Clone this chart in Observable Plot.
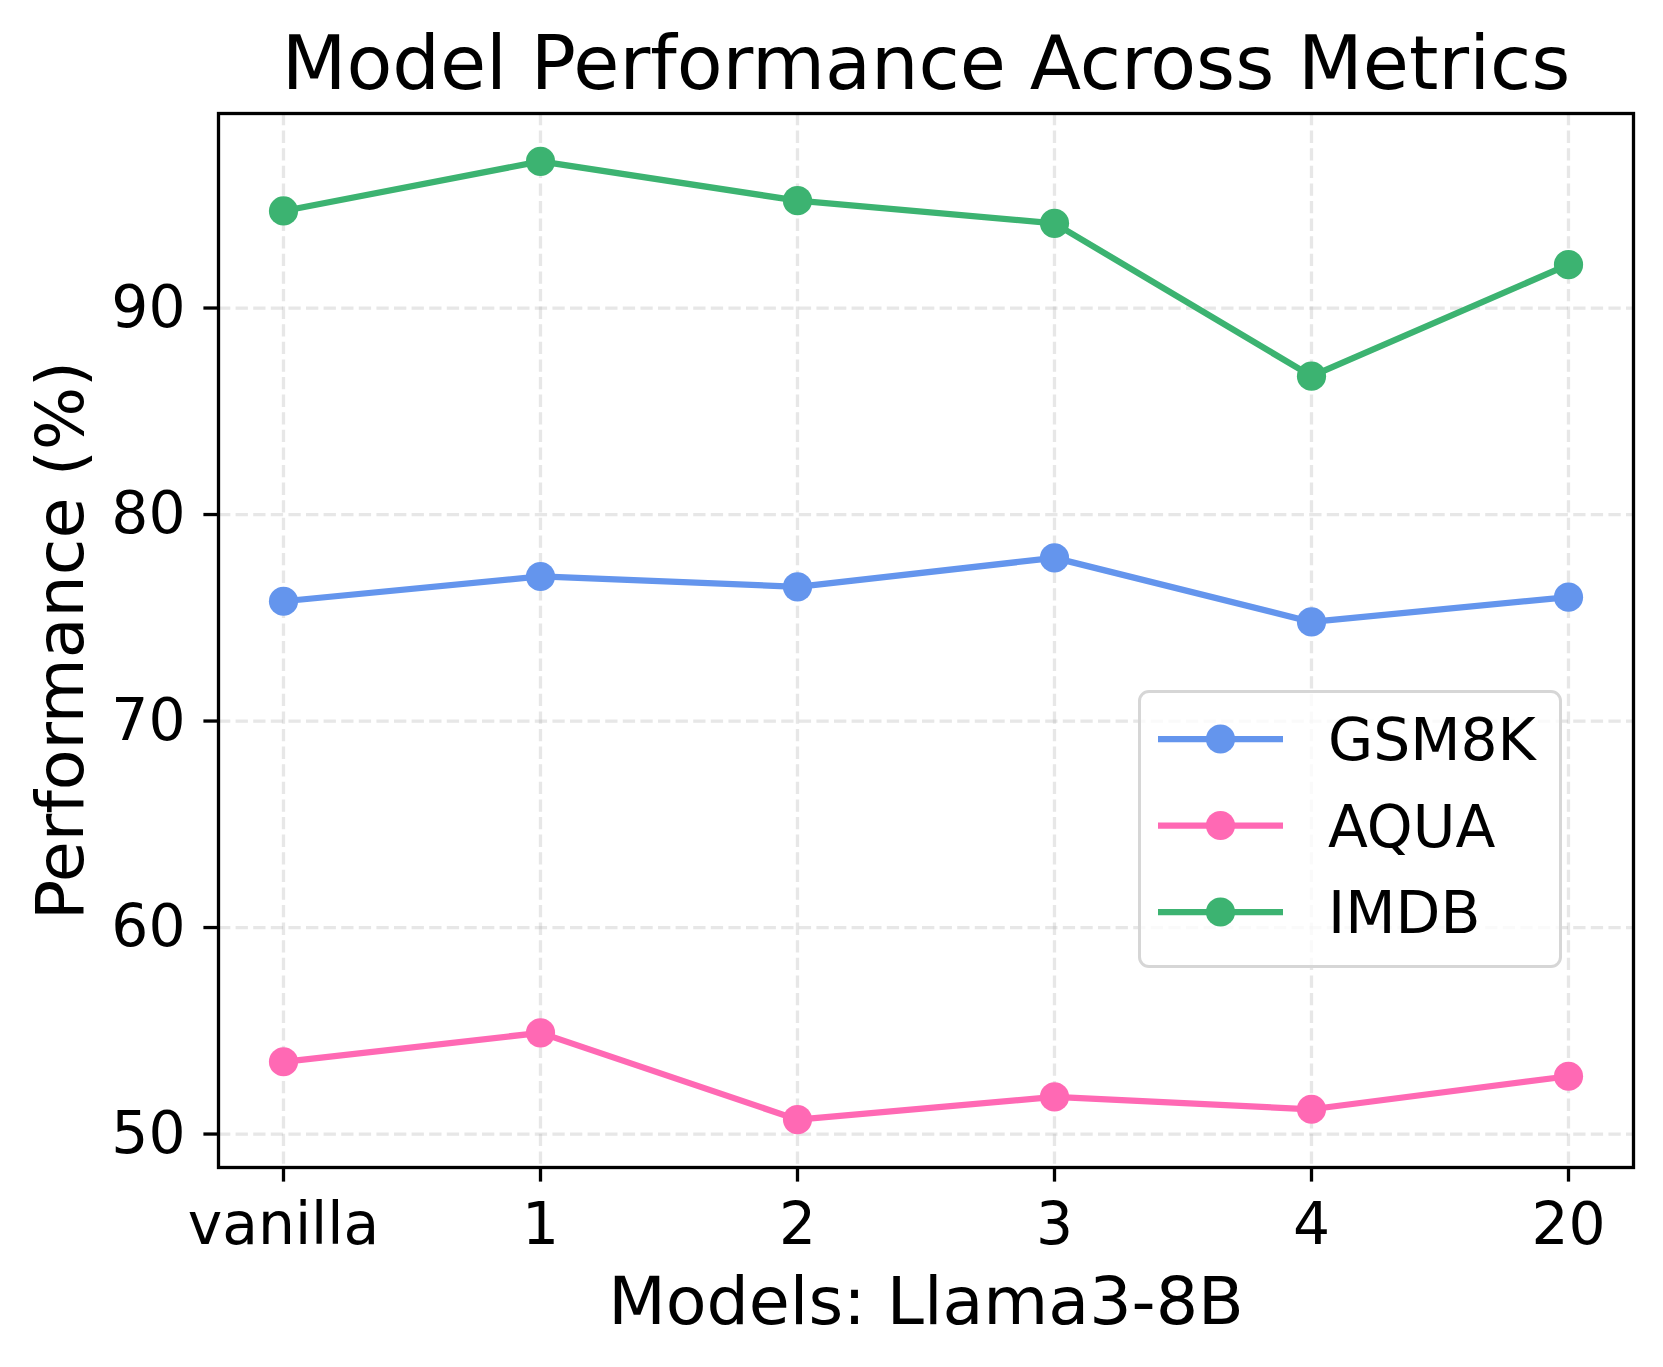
<!DOCTYPE html>
<html>
<head>
<meta charset="utf-8">
<script src="https://cdn.jsdelivr.net/npm/d3@7"></script>
<script src="https://cdn.jsdelivr.net/npm/@observablehq/plot@0.6"></script>
<style>
  html, body { margin: 0; padding: 0; background: #fff; overflow: hidden; }
  #wrap { position: relative; width: 1663px; height: 1367px; font-family: "DejaVu Sans", sans-serif; }
  #legend { position: absolute; left: 1138px; top: 690px; width: 424px; height: 278px;
            box-sizing: border-box; border: 3.3px solid #d6d6d6; border-radius: 11px;
            background: rgba(255,255,255,0.8); }
</style>
</head>
<body>
<div id="wrap"></div>
<script>
const models = ["vanilla", "1", "2", "3", "4", "20"];
const series = ["GSM8K", "AQUA", "IMDB"];
const colors = ["#6495ED", "#FF69B4", "#3CB371"];
const gsm8k = [75.8, 77.0, 76.5, 77.9, 74.8, 76.0];
const aqua  = [53.5, 54.9, 50.7, 51.8, 51.2, 52.8];
const imdb  = [94.7, 97.1, 95.2, 94.1, 86.7, 92.1];
const yTicks = [50, 60, 70, 80, 90];
const title = "Model Performance Across Metrics";
const xLabel = "Models: Llama3-8B";
const yLabel = "Performance (%)";

const values = {GSM8K: gsm8k, AQUA: aqua, IMDB: imdb};
const rows = series.flatMap(s => models.map((m, i) => ({series: s, model: m, value: values[s][i]})));

const all = [...gsm8k, ...aqua, ...imdb];
const lo = d3.min(all), hi = d3.max(all), pad = (hi - lo) * 0.05;

const grid = {stroke: "#b0b0b0", strokeOpacity: 0.3, strokeWidth: 3.3, strokeDasharray: "12.3,5.3"};
const colorCh = {value: d => d.series, scale: "color"};

const chart = Plot.plot({
  width: 1663,
  height: 1367,
  marginLeft: 218,
  marginRight: 30,
  marginTop: 113,
  marginBottom: 200,
  style: {fontFamily: "DejaVu Sans", color: "black", background: "white", overflow: "visible"},
  x: {type: "point", domain: models, padding: 0.25},
  y: {domain: [lo - pad, hi + pad]},
  color: {type: "ordinal", domain: series, range: colors},
  marks: [
    Plot.gridX(models, {...grid}),
    Plot.gridY(yTicks, {...grid}),
    ...series.map(s => Plot.line(rows.filter(d => d.series === s), {x: "model", y: "value", stroke: colorCh, strokeWidth: 6.25})),
    ...series.map(s => Plot.dot(rows.filter(d => d.series === s), {x: "model", y: "value", fill: colorCh, r: 14.6, stroke: null})),
    Plot.axisX({tickSize: 14.6, tickPadding: 20, fontSize: 58.3, strokeWidth: 3.3, label: null}),
    Plot.axisY({ticks: yTicks, tickSize: 14.6, tickPadding: 18.4, fontSize: 58.3, strokeWidth: 3.3, label: null}),
    Plot.frame({stroke: "black", strokeWidth: 3.3}),
    Plot.text([title], {frameAnchor: "top", textAnchor: "middle", lineAnchor: "bottom", dy: -25, fontSize: 75}),
    Plot.text([xLabel], {frameAnchor: "bottom", textAnchor: "middle", lineAnchor: "bottom", dy: 156, fontSize: 66.7}),
    Plot.text([yLabel], {frameAnchor: "left", textAnchor: "middle", lineAnchor: "bottom", rotate: -90, dx: -136, fontSize: 66.7})
  ]
});

const wrap = document.getElementById("wrap");
wrap.appendChild(chart);

// legend
const legend = document.createElement("div");
legend.id = "legend";
wrap.appendChild(legend);
const lsvg = d3.select(legend).append("svg")
  .attr("width", 424).attr("height", 278)
  .style("position", "absolute").style("left", "-3.3px").style("top", "-3.3px")
  .style("overflow", "visible");
series.forEach((s, i) => {
  const cy = 49 + i * 86.5;
  const g = lsvg.append("g");
  g.append("line").attr("x1", 20).attr("x2", 145).attr("y1", cy).attr("y2", cy)
    .attr("stroke", colors[i]).attr("stroke-width", 6.25);
  g.append("circle").attr("cx", 82.5).attr("cy", cy).attr("r", 14.6).attr("fill", colors[i]);
  g.append("text").attr("x", 190).attr("y", cy + 21).attr("font-size", 58.3)
    .attr("font-family", "DejaVu Sans").attr("fill", "black").text(s);
});
</script>
</body>
</html>
